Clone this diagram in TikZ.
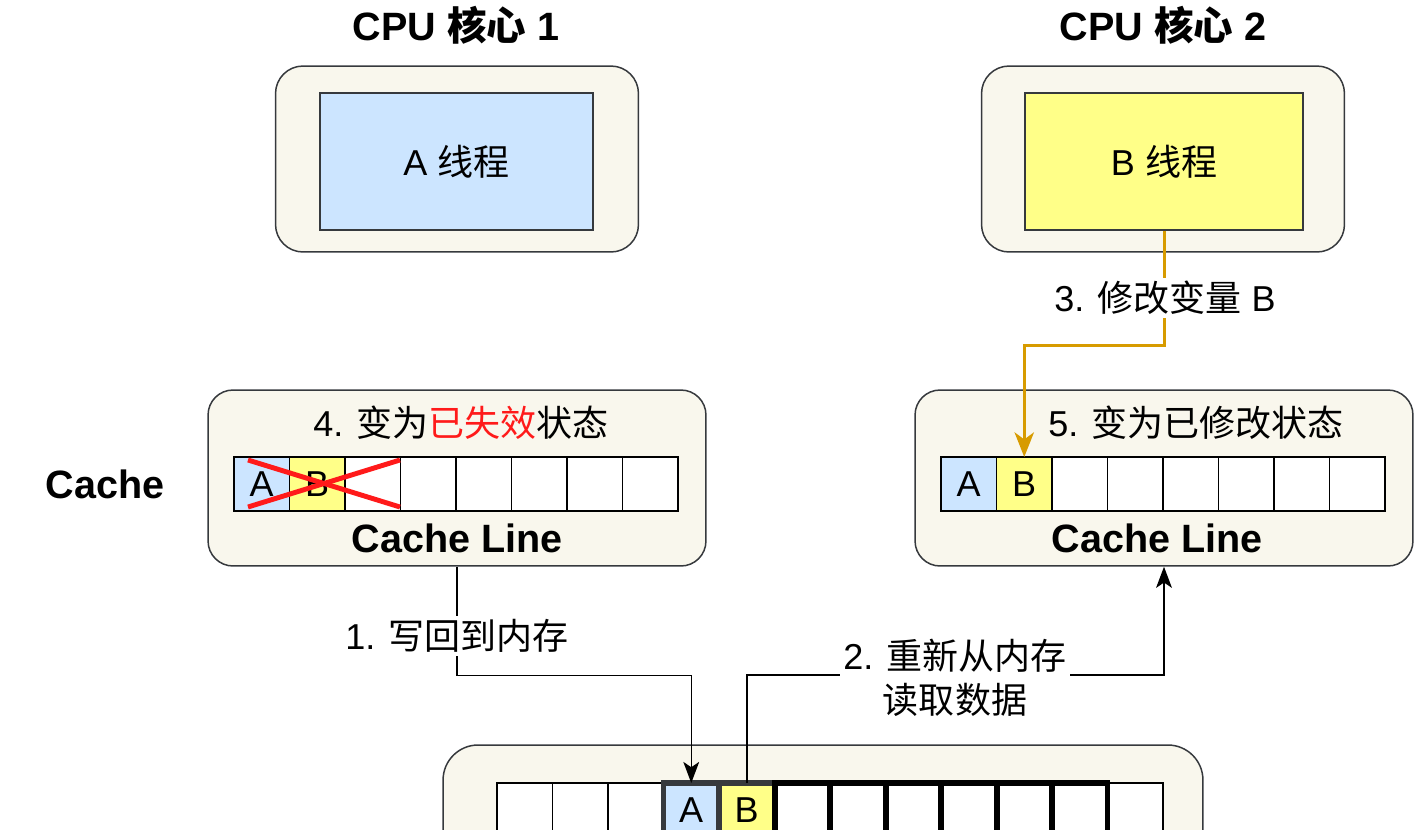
\documentclass[tikz,border=0pt]{standalone}
\usepackage{fontspec}
\setmainfont{Liberation Sans}
\newfontfamily\cjk{Noto Sans CJK SC}
\usetikzlibrary{arrows.meta}

\definecolor{beige}{HTML}{F9F7ED}
\definecolor{bluefill}{HTML}{CCE5FF}
\definecolor{yellowfill}{HTML}{FFFF88}
\definecolor{darkline}{HTML}{36393D}
\definecolor{orangeline}{HTML}{D79B00}
\definecolor{redmark}{HTML}{FF1A1A}

\newcommand{\bodyfont}{\fontsize{20.5}{25}\selectfont}
\newcommand{\titlefont}{\fontsize{22.5}{27}\selectfont\bfseries}

\begin{document}
\begin{tikzpicture}[x=0.02cm,y=-0.02cm,
  corebox/.style={draw=darkline, fill=beige, rounded corners=0.55cm, line width=0.85pt,
    minimum width=7.26cm, minimum height=3.72cm, inner sep=0pt},
  cachebox/.style={draw=darkline, fill=beige, rounded corners=0.5cm, line width=0.85pt,
    minimum width=9.96cm, minimum height=3.52cm, inner sep=0pt},
  thread/.style={draw=darkline, line width=0.85pt, minimum height=2.74cm,
    inner sep=0pt, font=\bodyfont},
  cell/.style={draw=black, fill=white, line width=0.85pt, minimum width=1.11cm,
    minimum height=1.08cm, inner sep=0pt, outer sep=0pt, font=\bodyfont},
  lbl/.style={fill=white, inner sep=2pt, font=\bodyfont, align=center},
  conn/.style={draw=black, line width=0.85pt, -{Stealth[length=12pt,width=9pt,inset=3pt]}},
  ]
  \useasboundingbox (0,0) rectangle (1427,829);
  \clip (0,0) rectangle (1427,829);

  % cpu cores
  \node[font=\titlefont] (t1) at (456,25) {CPU {\cjk 核心} 1};
  \node[font=\titlefont] (t2) at (1163,25) {CPU {\cjk 核心} 2};
  \node[corebox] (core1) at (457,159) {};
  \node[corebox] (core2) at (1163,159) {};
  \node[thread, fill=bluefill, minimum width=5.46cm] (athread) at (456.5,161.5) {A {\cjk 线程}};
  \node[thread, fill=yellowfill, minimum width=5.56cm] (bthread) at (1164,161.5) {B {\cjk 线程}};

  % caches
  \node[font=\titlefont] (cache) at (105,484) {Cache};
  \node[cachebox] (lcache) at (457,478) {};
  \node[cachebox] (rcache) at (1164,478) {};
  \node[font=\bodyfont] (lstate) at (461,423) {4. {\cjk 变为\textcolor{redmark}{已失效}状态}};
  \node[font=\bodyfont] (rstate) at (1196,423) {5. {\cjk 变为已修改状态}};
  \node[font=\titlefont] (lline) at (457,538) {Cache Line};
  \node[font=\titlefont] (rline) at (1157,538) {Cache Line};

  \foreach \i in {0,...,7} {
    \node[cell] (lc\i) at (261.75+55.5*\i,484) {};
    \node[cell] (rc\i) at (968.75+55.5*\i,484) {};
  }
  \node[cell, fill=bluefill] at (lc0) {A};
  \node[cell, fill=yellowfill] at (lc1) {B};
  \node[cell, fill=bluefill] at (rc0) {A};
  \node[cell, fill=yellowfill] at (rc1) {B};
  \draw[redmark, line width=2.8pt] (248,460) -- (400,507);
  \draw[redmark, line width=2.8pt] (248,507) -- (400,460);

  % memory
  \node[draw=darkline, fill=beige, rounded corners=0.7cm, line width=0.85pt,
    minimum width=15.2cm, minimum height=3.4cm] (mem) at (823,830) {};
  \foreach \i in {0,...,11}
    \node[cell] (m\i) at (524.75+55.5*\i,810) {};
  \node[cell, fill=bluefill, draw=darkline, line width=3pt] at (m3) {A};
  \node[cell, fill=yellowfill, draw=darkline, line width=3pt] at (m4) {B};
  \foreach \i in {5,...,10}
    \node[cell, fill=none, line width=3.4pt] at (m\i) {};

  % connectors
  \draw[conn] (lcache.south) -- ++(0,109) -| (m3.north);
  \draw[conn] (m4.north) -- ++(0,-108) -| (rcache.south);
  \draw[conn, draw=orangeline, line width=1.7pt, -{Stealth[length=14pt,width=11pt,inset=4pt]}]
    (bthread.south) -- ++(0,115) -| (rc1.north);
  \node[lbl] (step1) at (457,636) {1. {\cjk 写回到内存}};
  \node[lbl] (step2) at (955,678) {2. {\cjk 重新从内存}\\{\cjk 读取数据}};
  \node[lbl] (step3) at (1165,298) {3. {\cjk 修改变量} B};
\end{tikzpicture}
\end{document}
